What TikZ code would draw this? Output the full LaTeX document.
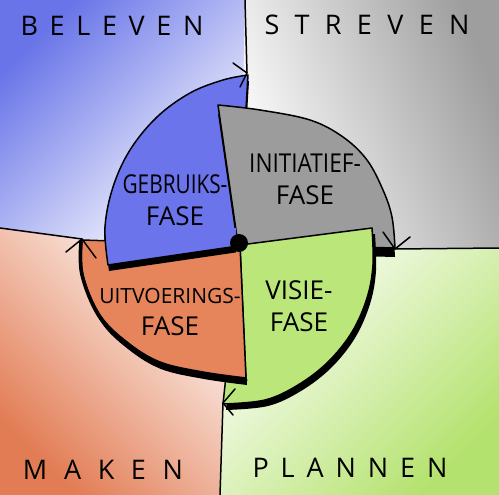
\documentclass[tikz,border=0pt]{standalone}
\usepackage{fontspec}
\setmainfont{Open Sans}
\newfontfamily\hand{Open Sans}
\definecolor{BlueQ}{RGB}{104,116,232}
\definecolor{GrayQ}{RGB}{158,158,158}
\definecolor{GreenQ}{RGB}{180,226,110}
\definecolor{OrangeQ}{RGB}{226,124,84}
\definecolor{BlueS}{RGB}{108,116,236}
\definecolor{GrayS}{RGB}{156,156,156}
\definecolor{GreenS}{RGB}{186,230,122}
\definecolor{OrangeS}{RGB}{230,132,92}
\newcommand\pblue{(238,246) -- (248,75) -- plot[smooth,tension=0.6] coordinates {(248,75) (223,80) (190,93) (157,117) (130,150) (113,187) (105,227) (108,265)} -- cycle}
\newcommand\pgray{(238,244) -- (218,105) -- plot[smooth,tension=0.6] coordinates {(218,105) (260,110) (310,120) (343,137) (367,160) (383,190) (392,217) (395,248)} -- cycle}
\newcommand\pgreen{(240,245) -- (372,228) -- plot[smooth,tension=0.6] coordinates {(372,228) (373,265) (367,298) (352,332) (328,362) (298,385) (265,400) (223,404)} -- cycle}
\newcommand\porange{(82,240) -- (240,245) -- (246,378) -- plot[smooth,tension=0.6] coordinates {(246,378) (203,372) (160,362) (127,342) (100,315) (83,275) (82,240)} -- cycle}
\tikzset{
  sector/.style={draw=black, line width=1.5pt, line join=round},
  shadowfill/.style={fill=black},
  divider/.style={draw=black, line width=1.5pt, line cap=round},
  tipv/.style={draw=black, line width=1.5pt, line cap=round, line join=round},
  qlabel/.style={inner sep=0pt, font=\hand\fontsize{27}{30}\selectfont},
  plabel/.style={inner sep=0pt, align=center, font=\hand\fontsize{26}{32}\selectfont}
}
\begin{document}
\begin{tikzpicture}[x=1pt,y=-1pt]
\useasboundingbox (0,0) rectangle (499,495);
% quadrant backgrounds
\shade[top color=BlueQ, bottom color=white, shading angle=45] (0,0) -- (246,0) -- (240,243) -- (82,239) -- (0,228) -- cycle;
\shade[top color=GrayQ, bottom color=white, shading angle=-70] (245,0) -- (499,0) -- (499,249) -- (395,249) -- (240,243) -- cycle;
\shade[top color=white, bottom color=GreenQ, shading angle=45] (240,243) -- (395,248) -- (499,248) -- (499,495) -- (220,495) -- (223,403) -- cycle;
\shade[top color=white, bottom color=OrangeQ, shading angle=-45] (0,228) -- (82,239) -- (240,243) -- (223,403) -- (220,495) -- (0,495) -- cycle;
% dividers
\draw[divider] (245,0) -- (247,73);
\draw[divider] (395,249) -- (499,248);
\draw[divider] (223,403) -- (220,495);
\draw[divider] (0,228) -- (82,239);
% sectors
\fill[shadowfill, shift={(1,6)}] \pblue;
\filldraw[sector, fill=BlueS] \pblue;
\fill[shadowfill, shift={(0,9)}] \pgray;
\filldraw[sector, fill=GrayS] \pgray;
\fill[shadowfill, shift={(3,6)}] \pgreen;
\filldraw[sector, fill=GreenS] \pgreen;
\fill[shadowfill, shift={(1,7)}] \porange;
\filldraw[sector, fill=OrangeS] \porange;
\draw[black, line width=3.5pt, line cap=round] plot[smooth,tension=0.6] coordinates {(246,380) (203,374) (160,364) (127,344) (99,316) (82,275) (81,242)};
\begin{scope}
\clip (0,229) rectangle (236,300);
\fill[shadowfill, shift={(1,6)}] \pblue;
\filldraw[sector, fill=BlueS] \pblue;
\end{scope}
% arrow tips
\draw[tipv] (233,63) -- (247,73) -- (240,87);
\draw[tipv] (383,232) -- (395,249) -- (410,237);
\draw[tipv] (235,389) -- (223,403) -- (233,415);
\draw[tipv] (66,252) -- (82,239) -- (96,258);
% centre dot
\fill[black] (239,243) circle[radius=9pt];
% quadrant labels
\node[qlabel] (beleven) at (112,26) {\makebox[183pt][s]{B\hfil E\hfil L\hfil E\hfil V\hfil E\hfil N}};
\node[qlabel] (streven) at (367,25) {\makebox[205pt][s]{S\hfil T\hfil R\hfil E\hfil V\hfil E\hfil N}};
\node[qlabel] (maken) at (103,470) {\makebox[160pt][s]{M\hfil A\hfil K\hfil E\hfil N}};
\node[qlabel] (plannen) at (350,468) {\makebox[195pt][s]{P\hfil L\hfil A\hfil N\hfil N\hfil E\hfil N}};
% phase labels
\node[plabel] (gebruik) at (175,200) {\scalebox{0.8}[1]{GEBRUIKS-}\\FASE};
\node[plabel] (initiatief) at (305,179) {\scalebox{0.87}[1]{INITIATIEF-}\\FASE};
\node[plabel] (uitvoering) at (170,312) {{\fontsize{21}{24}\selectfont UITVOERINGS-}\\FASE};
\node[plabel] (visie) at (299,306) {VISIE-\\FASE};
\end{tikzpicture}
\end{document}
